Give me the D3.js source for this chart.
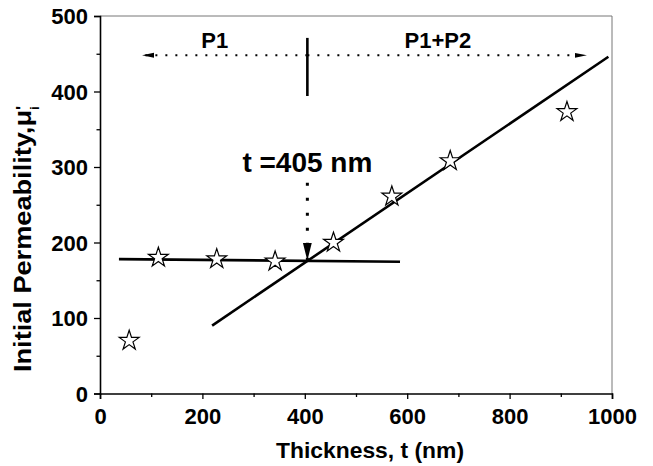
<!DOCTYPE html>
<html>
<head>
<meta charset="utf-8">
<script src="https://cdn.jsdelivr.net/npm/d3@7"></script>
<style>
  body { margin: 0; background: #fff; }
  text { font-family: "Liberation Sans", Arial, sans-serif; font-weight: bold; }
</style>
</head>
<body>
<svg width="653" height="466"></svg>
<script>
// measured points
const thickness = [57, 114, 228, 342, 456, 570, 684, 912];
const permeability = [70, 180, 178, 175, 200, 261, 308, 373];

// the two fitted lines (end points)
const fitP1 = [[37, 178], [586, 174.5]];
const fitP2 = [[219, 90], [993, 446]];

const xTicks = [0, 200, 400, 600, 800, 1000];
const yTicks = [0, 100, 200, 300, 400, 500];
const xMinor = [100, 300, 500, 700, 900];
const yMinor = [50, 150, 250, 350, 450];

const crossT = 405;

const margin = { top: 16, right: 41, bottom: 72.5, left: 100 };
const width = 653 - margin.left - margin.right;
const height = 466 - margin.top - margin.bottom;

const svg = d3.select("svg");
const g = svg.append("g").attr("transform", `translate(${margin.left},${margin.top})`);

const x = d3.scaleLinear().domain([0, 1000]).range([0, width]);
const y = d3.scaleLinear().domain([0, 500]).range([height, 0]);

// arrow heads
const defs = svg.append("defs");
defs.append("marker")
    .attr("id", "head")
    .attr("viewBox", "0 0 12 6")
    .attr("refX", 12).attr("refY", 3)
    .attr("markerWidth", 12).attr("markerHeight", 6)
    .attr("markerUnits", "userSpaceOnUse")
    .attr("orient", "auto")
  .append("path").attr("d", "M0,0.6 L12,3 L0,5.4 Z").attr("fill", "#000");
defs.append("marker")
    .attr("id", "headV")
    .attr("viewBox", "0 0 18 10")
    .attr("refX", 18).attr("refY", 5)
    .attr("markerWidth", 18).attr("markerHeight", 10)
    .attr("markerUnits", "userSpaceOnUse")
    .attr("orient", "auto")
  .append("path").attr("d", "M0,0.5 L18,5 L0,9.5 Z").attr("fill", "#000");

// frame (top / right)
g.append("path")
    .attr("d", `M0,0 H${width} V${height}`)
    .attr("fill", "none").attr("stroke", "#777").attr("stroke-width", 1);

// axes
g.append("g").attr("transform", `translate(0,${height})`)
    .call(d3.axisBottom(x).tickValues(xTicks).tickSize(5.5).tickPadding(9).tickFormat(d3.format("d")));
g.append("g").attr("transform", `translate(0,${height})`)
    .call(d3.axisBottom(x).tickValues(xMinor).tickSize(3.5).tickFormat(""))
    .select(".domain").remove();
const yAxis = g.append("g")
    .call(d3.axisLeft(y).tickValues(yTicks).tickSize(6).tickPadding(6));
g.append("g")
    .call(d3.axisLeft(y).tickValues(yMinor).tickSize(3.5).tickFormat(""))
    .select(".domain").remove();

g.selectAll(".domain").attr("stroke-width", 1.6);
g.selectAll(".tick line").attr("stroke-width", 1.3);
g.selectAll(".tick text")
    .attr("font-size", 22).attr("font-weight", "bold")
    .attr("font-family", "'Liberation Sans', Arial, sans-serif")
    .attr("fill", "#000");
yAxis.selectAll(".tick text").attr("dy", "0.36em");

// axis titles
svg.append("text")
    .attr("x", 370)
    .attr("y", 458)
    .attr("text-anchor", "middle")
    .attr("font-size", 22)
    .attr("textLength", 188)
    .attr("lengthAdjust", "spacingAndGlyphs")
    .text("Thickness, t (nm)");

const yl = svg.append("text")
    .attr("transform", "translate(31,372) rotate(-90)")
    .attr("font-size", 23.5);
yl.append("tspan")
    .attr("textLength", 262)
    .attr("lengthAdjust", "spacingAndGlyphs")
    .text("Initial Permeability,\u03bc");
yl.append("tspan").attr("dy", -3).attr("font-size", 17).text("'");
yl.append("tspan").attr("dx", -4).attr("dy", 11).attr("font-size", 13).text("i");

// fit lines
const line = d3.line().x(d => x(d[0])).y(d => y(d[1]));
g.selectAll(".fit")
    .data([fitP1, fitP2])
    .enter().append("path")
    .attr("class", "fit")
    .attr("d", line)
    .attr("fill", "none").attr("stroke", "#000").attr("stroke-width", 2.6);

// points
const star = d3.symbol().type(d3.symbolStar).size(122);
g.selectAll(".pt")
    .data(thickness.map((t, i) => [t, permeability[i]]))
    .enter().append("path")
    .attr("class", "pt")
    .attr("transform", d => `translate(${x(d[0])},${y(d[1])})`)
    .attr("d", star)
    .attr("fill", "#fff").attr("stroke", "#000").attr("stroke-width", 1.2);

// phase regions at the top
g.append("line")
    .attr("x1", x(crossT)).attr("x2", x(crossT))
    .attr("y1", y(471)).attr("y2", y(394))
    .attr("stroke", "#000").attr("stroke-width", 2.6);
g.append("line")
    .attr("x1", x(crossT)).attr("x2", x(82))
    .attr("y1", y(448)).attr("y2", y(448))
    .attr("stroke", "#000").attr("stroke-width", 2.2)
    .attr("stroke-dasharray", "2,8")
    .attr("marker-end", "url(#head)");
g.append("line")
    .attr("x1", x(crossT)).attr("x2", x(951))
    .attr("y1", y(448)).attr("y2", y(448))
    .attr("stroke", "#000").attr("stroke-width", 2.2)
    .attr("stroke-dasharray", "2,8")
    .attr("marker-end", "url(#head)");

g.append("text")
    .attr("x", x(224)).attr("y", y(458))
    .attr("text-anchor", "middle").attr("font-size", 22)
    .text("P1");
g.append("text")
    .attr("x", x(660)).attr("y", y(458))
    .attr("text-anchor", "middle").attr("font-size", 22)
    .text("P1+P2");

// crossing annotation
g.append("text")
    .attr("x", x(crossT)).attr("y", y(294))
    .attr("text-anchor", "middle").attr("font-size", 28)
    .text("t =405 nm");
g.append("line")
    .attr("x1", x(crossT)).attr("x2", x(crossT))
    .attr("y1", y(279)).attr("y2", y(176))
    .attr("stroke", "#000").attr("stroke-width", 3)
    .attr("stroke-dasharray", "3,12")
    .attr("marker-end", "url(#headV)");
</script>
</body>
</html>
